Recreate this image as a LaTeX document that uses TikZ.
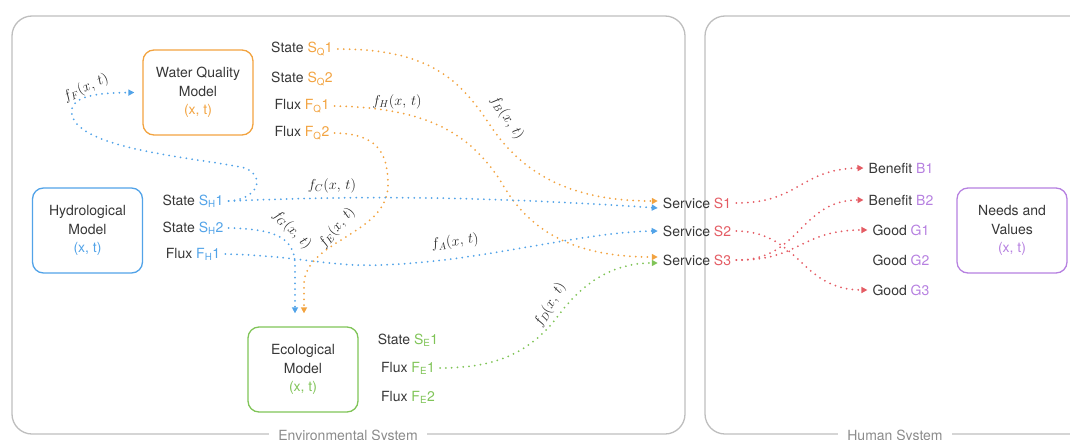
\documentclass[tikz,border=0pt]{standalone}
\usepackage{fontspec}
\setmainfont{TeX Gyre Heros}
\usetikzlibrary{arrows.meta,positioning}

\definecolor{qcol}{RGB}{242,163,64}
\definecolor{hcol}{RGB}{82,163,232}
\definecolor{ecol}{RGB}{128,196,88}
\definecolor{scol}{RGB}{228,92,100}
\definecolor{vcol}{RGB}{182,128,224}
\definecolor{txt}{RGB}{55,55,55}
\definecolor{frame}{RGB}{190,190,190}

\begin{document}
\begin{tikzpicture}[
  x=1pt, y=-1pt,
  font=\fontsize{14}{18.5}\selectfont,
  model/.style={draw, rounded corners=11pt, line width=1.3pt, minimum width=110pt,
                minimum height=85pt, align=center, text=txt},
  var/.style={text=txt, inner xsep=5pt, inner ysep=2pt},
  link/.style={line width=2pt, line cap=round, dash pattern=on 0pt off 5.8pt,
               -{Triangle[length=6pt, width=6pt]}},
  fn/.style={text=black!85, inner sep=1pt},
  system/.style={draw=frame, line width=1.3pt, rounded corners=20pt},
  syslabel/.style={fill=white, text=black!45, inner xsep=9pt},
]
  \useasboundingbox (0,0) rectangle (1070,439);

  % the two systems
  \draw[system] (12,16) rectangle (685,434);
  \draw[system] (705,16) rectangle (1095,434);
  \node[syslabel] (envlbl) at (348,437) {Environmental System};
  \node[syslabel] (humlbl) at (895,437) {Human System};

  % models
  \node[model, draw=qcol] (wqm) at (198,92.5) {Water Quality\\Model\\\textcolor{qcol}{(x, t)}};
  \node[model, draw=hcol] (hyd) at (87.5,230.5) {Hydrological\\Model\\\textcolor{hcol}{(x, t)}};
  \node[model, draw=ecol] (eco) at (303,369.5) {Ecological\\Model\\\textcolor{ecol}{(x, t)}};
  \node[model, draw=vcol] (needs) at (1012,230.5) {Needs and\\Values\\\textcolor{vcol}{(x, t)}};

  % states and fluxes
  \node[var] (sq1) at (302,49) {State \textcolor{qcol}{S\textsubscript{Q}1}};
  \node[var] (sq2) at (302,79) {State \textcolor{qcol}{S\textsubscript{Q}2}};
  \node[var] (fq1) at (302,106) {Flux \textcolor{qcol}{F\textsubscript{Q}1}};
  \node[var] (fq2) at (302,133) {Flux \textcolor{qcol}{F\textsubscript{Q}2}};

  \node[var] (sh1) at (193,201) {State \textcolor{hcol}{S\textsubscript{H}1}};
  \node[var] (sh2) at (193,228) {State \textcolor{hcol}{S\textsubscript{H}2}};
  \node[var] (fh1) at (193,254) {Flux \textcolor{hcol}{F\textsubscript{H}1}};

  \node[var] (se1) at (408,340) {State \textcolor{ecol}{S\textsubscript{E}1}};
  \node[var] (fe1) at (408,368) {Flux \textcolor{ecol}{F\textsubscript{E}1}};
  \node[var] (fe2) at (408,397) {Flux \textcolor{ecol}{F\textsubscript{E}2}};

  % services, benefits, goods
  \node[var] (s1) at (697,203) {Service \textcolor{scol}{S1}};
  \node[var] (s2) at (697,231) {Service \textcolor{scol}{S2}};
  \node[var] (s3) at (697,260) {Service \textcolor{scol}{S3}};

  \node[var] (b1) at (901,168) {Benefit \textcolor{vcol}{B1}};
  \node[var] (b2) at (901,200) {Benefit \textcolor{vcol}{B2}};
  \node[var] (g1) at (901,230) {Good \textcolor{vcol}{G1}};
  \node[var] (g2) at (901,260) {Good \textcolor{vcol}{G2}};
  \node[var] (g3) at (901,290) {Good \textcolor{vcol}{G3}};

  % water quality links
  \draw[link, qcol] (sq1.east) .. controls (430,49) and (460,80) .. (490,125)
    .. controls (520,170) and (565,201) .. ([yshift=2pt]s1.west);
  \draw[link, qcol] (fq1.east) .. controls (430,108) and (470,135) .. (500,180)
    .. controls (525,225) and (565,257) .. ([yshift=3pt]s3.west);
  \draw[link, qcol] (fq2.east) .. controls (375,134) and (388,150) .. (388,185)
    .. controls (388,235) and (304,240) .. (304,285) -- ([xshift=1pt,yshift=13pt]eco.north);

  % hydrological links
  \draw[link, hcol] (sh1.east) .. controls (255,200) and (268,178) .. (245,168)
    .. controls (200,158) and (80,150) .. (72,115)
    .. controls (68,95) and (100,93) .. ([xshift=-8pt]wqm.west);
  \draw[link, hcol] (sh1.east) .. controls (330,197) and (450,194) .. ([yshift=-5pt]s1.west);
  \draw[link, hcol] (sh2.east) .. controls (270,229) and (295,235) .. (295,265)
    -- ([xshift=-8pt,yshift=13pt]eco.north);
  \draw[link, hcol] (fh1.east) .. controls (300,256) and (330,267) .. (380,265)
    .. controls (480,262) and (580,232) .. (s2.west);

  % ecological link
  \draw[link, ecol] (fe1.east) .. controls (500,368) and (530,350) .. (555,320)
    .. controls (580,285) and (610,263) .. ([yshift=-3pt]s3.west);

  % services to benefits and goods
  \draw[link, scol] (s1.east) .. controls (800,203) and (800,169) .. (b1.west);
  \draw[link, scol] (s2.east) .. controls (800,232) and (800,290) .. (g3.west);
  \draw[link, scol] (s3.east) .. controls (800,261) and (800,200) .. (b2.west);
  \draw[link, scol] (s3.east) .. controls (800,261) and (800,230) .. (g1.west);

  % transfer functions
  \node[fn, rotate=-56] (lblB) at (507,118) {$f_B(x,\,t)$};
  \node[fn] (lblH) at (397,102) {$f_H(x,\,t)$};
  \node[fn, rotate=50] (lblE) at (337,228) {$f_E(x,\,t)$};
  \node[fn, rotate=25] (lblF) at (86,88) {$f_F(x,\,t)$};
  \node[fn] (lblC) at (332,186) {$f_C(x,\,t)$};
  \node[fn, rotate=-45] (lblG) at (292,230) {$f_G(x,\,t)$};
  \node[fn, rotate=8] (lblA) at (455,242) {$f_A(x,\,t)$};
  \node[fn, rotate=60] (lblD) at (550,305) {$f_D(x,\,t)$};
\end{tikzpicture}
\end{document}
